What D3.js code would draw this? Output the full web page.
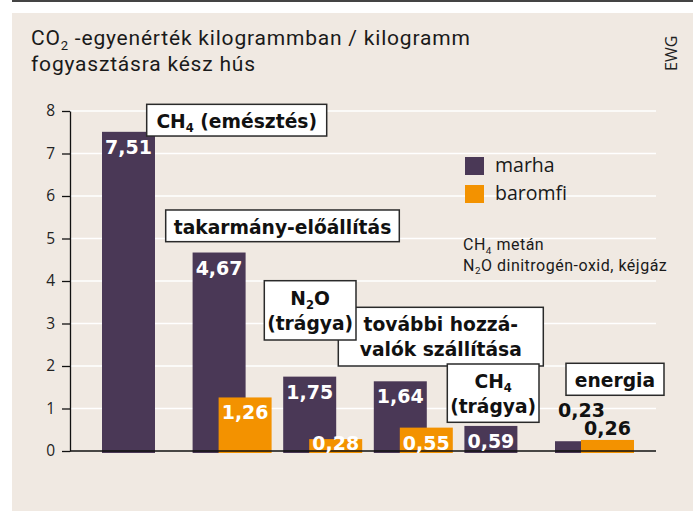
<!DOCTYPE html>
<html>
<head>
<meta charset="utf-8">
<script src="https://cdn.jsdelivr.net/npm/d3@7"></script>
<style>
  body { margin: 0; background: #ffffff; }
  svg { display: block; }
</style>
</head>
<body>
<svg id="chart" width="695" height="517"></svg>
<script>
// Emission sources; "_n" marks a subscript digit, "|" a line break
const categories = ["CH_4 (emésztés)", "takarmány-előállítás", "N_2O|(trágya)",
                    "további hozzá-|valók szállítása", "CH_4|(trágya)", "energia"];
const seriesNames = ["marha", "baromfi"];
const marha   = [7.51, 4.67, 1.75, 1.64, 0.59, 0.23];
const baromfi = [null, 1.26, 0.28, 0.55, null, 0.26];
const yTicks = [0, 1, 2, 3, 4, 5, 6, 7, 8];
const titleLines = ["CO_2 -egyenérték kilogrammban / kilogramm", "fogyasztásra kész hús"];
const notes = ["CH_4 metán", "N_2O dinitrogén-oxid, kéjgáz"];
const source = "EWG";

const colors = { marha: "#4a3856", baromfi: "#f39200" };
const bg = "#f0e9e2";
const boldFont = "'DejaVu Sans', sans-serif";
const textFont = "'Open Sans', sans-serif";
const titleFont = "Roboto, sans-serif";

const svg = d3.select("#chart");
const fmt = d3.formatLocale({ decimal: ",", thousands: " ", grouping: [3], currency: ["", ""] }).format(".2f");

// writes a string with "_n" subscripts into a text element
function rich(textSel, str, size) {
  const parts = str.split(/_(\d)/);
  let shift = 0;
  parts.forEach((p, i) => {
    if (p === "") return;
    const sub = i % 2 === 1;
    const target = sub ? size * 0.22 : 0;
    textSel.append("tspan")
      .attr("dy", target - shift)
      .attr("font-size", sub ? size * 0.62 : size)
      .text(p);
    shift = target;
  });
}

// panel
svg.append("rect").attr("x", 12).attr("y", 0).attr("width", 681).attr("height", 2).attr("fill", "#444");
svg.append("rect").attr("x", 12).attr("y", 13).attr("width", 681).attr("height", 498).attr("fill", bg);

// title
titleLines.forEach((t, i) => {
  const el = svg.append("text").attr("x", 31).attr("y", 45 + i * 26)
    .attr("font-family", titleFont).attr("font-size", 21).attr("letter-spacing", 0.8)
    .attr("fill", "#1a1a1a");
  rich(el, t, 21);
});
svg.append("text")
  .attr("transform", "translate(677,71) rotate(-90)")
  .attr("font-family", textFont).attr("font-size", 16).attr("fill", "#222")
  .text(source);

// scales
const y = d3.scaleLinear().domain([0, 8]).range([451, 111]);
const x = d3.scaleBand().domain(categories).range([96.2, 639.8]).paddingInner(0.128).paddingOuter(0.064);
const barW = 53;
const xs = d3.scalePoint().domain(seriesNames).range([0, x.bandwidth() - barW]);

// gridlines
svg.append("g").selectAll("line").data(yTicks.filter(d => d > 0)).join("line")
  .attr("x1", 70).attr("x2", 656)
  .attr("y1", d => y(d)).attr("y2", d => y(d))
  .attr("stroke", "#ffffff").attr("stroke-width", 1.5);

// y axis
const yAxis = svg.append("g").attr("transform", "translate(70,0)")
  .call(d3.axisLeft(y).tickValues(yTicks).tickSize(8).tickSizeOuter(0).tickPadding(7).tickFormat(d3.format("d")));
yAxis.select(".domain").attr("stroke", "#111").attr("stroke-width", 1.3);
yAxis.selectAll(".tick line").attr("stroke", "#111").attr("stroke-width", 1.3);
yAxis.selectAll(".tick text").attr("font-family", textFont).attr("font-size", 15.5).attr("fill", "#222");

// bars
const rows = [];
seriesNames.forEach((s, si) => {
  const vals = si === 0 ? marha : baromfi;
  categories.forEach((c, ci) => {
    if (vals[ci] != null) rows.push({ s, si, c, v: vals[ci] });
  });
});
svg.append("g").selectAll("rect").data(rows).join("rect")
  .attr("x", d => x(d.c) + xs(d.s))
  .attr("y", d => y(d.v))
  .attr("width", barW)
  .attr("height", d => y(0) - y(d.v) + 2)
  .attr("fill", d => colors[d.s]);

// x baseline
svg.append("line").attr("x1", 70).attr("x2", 656).attr("y1", y(0)).attr("y2", y(0))
  .attr("stroke", "#111").attr("stroke-width", 1.3);

// value labels: white inside the bar, black above the smallest bars
const outside = d => d.v < 0.27;
svg.append("g").selectAll("text").data(rows).join("text")
  .attr("x", d => x(d.c) + xs(d.s) + barW / 2)
  .attr("y", d => {
    const top = y(d.v);
    if (outside(d)) return top - (d.si === 0 ? 24 : 5);
    return Math.min(top + 22, y(0) - 1);
  })
  .attr("text-anchor", "middle")
  .attr("font-family", boldFont).attr("font-weight", "bold").attr("font-size", 19)
  .attr("fill", d => (outside(d) ? "#111" : "#ffffff"))
  .text(d => fmt(d.v));

// category boxes, anchored to each group
const boxLayout = [
  { dx: 44.7,  top: 8.157, w: 180,   h: 31.7 },
  { dx: -26.9, top: 5.671, w: 233.6, h: 31.7 },
  { dx: -18.9, top: 4.007, w: 91.7,  h: 59.3 },
  { dx: -35.5, top: 3.381, w: 205,   h: 58.7 },
  { dx: -17.1, top: 2.047, w: 91.7,  h: 58.3 },
  { dx: 11,    top: 2.064, w: 98,    h: 32 }
];
const boxOrder = [0, 1, 3, 2, 4, 5];
boxOrder.forEach(i => {
  const c = categories[i], b = boxLayout[i];
  const bx = x(c) + b.dx, by = y(b.top);
  const g = svg.append("g");
  g.append("rect").attr("x", bx).attr("y", by).attr("width", b.w).attr("height", b.h)
    .attr("fill", "#ffffff").attr("stroke", "#2a2a2a").attr("stroke-width", 1.5);
  c.split("|").forEach((line, li) => {
    const t = g.append("text").attr("x", bx + b.w / 2).attr("y", by + 24 + li * 25)
      .attr("text-anchor", "middle")
      .attr("font-family", boldFont).attr("font-weight", "bold").attr("font-size", 18.7).attr("fill", "#111");
    rich(t, line, 18.7);
  });
});

// legend
seriesNames.forEach((s, i) => {
  svg.append("rect").attr("x", 465).attr("y", 157 + i * 28).attr("width", 19).attr("height", 18).attr("fill", colors[s]);
  svg.append("text").attr("x", 495).attr("y", 172 + i * 28)
    .attr("font-family", textFont).attr("font-size", 19.5).attr("fill", "#1a1a1a").text(s);
});

// abbreviations
notes.forEach((n, i) => {
  const t = svg.append("text").attr("x", 463).attr("y", 250 + i * 20.5)
    .attr("font-family", titleFont).attr("font-size", 16).attr("letter-spacing", 0.5)
    .attr("fill", "#1a1a1a");
  rich(t, n, 16);
});
</script>
</body>
</html>
